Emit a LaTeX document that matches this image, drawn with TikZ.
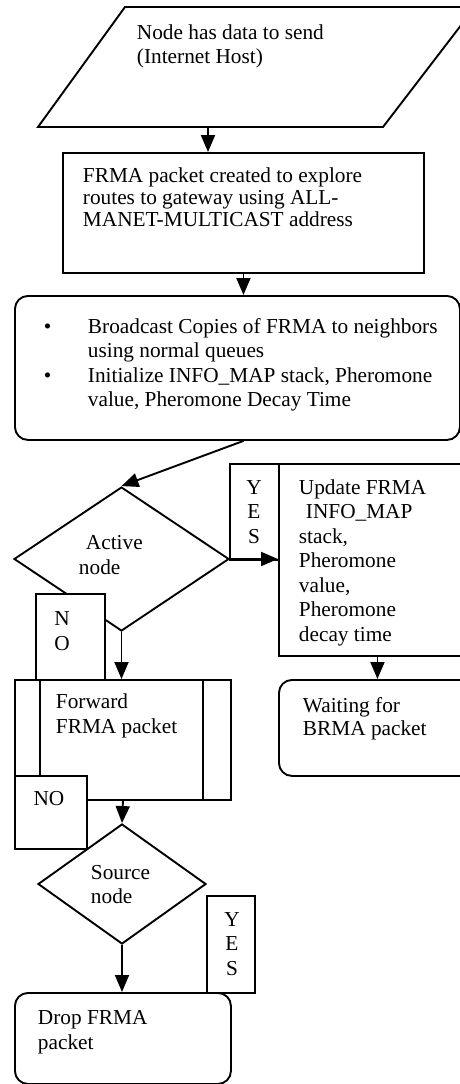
\documentclass[tikz,border=0pt]{standalone}
\usepackage{fontspec}
\setmainfont{Liberation Serif}
\usetikzlibrary{arrows.meta,shapes.geometric}
\begin{document}
\begin{tikzpicture}[x=1pt,y=-1pt,line width=1.9pt,
  arr/.style={-{Triangle[length=17pt,width=14pt]}},
  txt/.style={anchor=base west,inner sep=0pt,align=left,font=\fontsize{21.3}{24.5}\selectfont},
  ctxt/.style={anchor=base,inner sep=0pt,align=center,font=\fontsize{21.3}{24.5}\selectfont},
  box/.style={draw,rectangle,inner sep=0pt,anchor=north west},
  rbox/.style={box,rounded corners=13pt},
  dia/.style={draw,diamond,inner sep=0pt,aspect=1}]
\useasboundingbox (0,0) rectangle (460,1084);
\clip (0,0) rectangle (460,1084);
% start parallelogram (last-line baselines given)
\draw (125,7) -- (475,7) -- (383,127) -- (38,127) -- cycle;
\coordinate (p1) at (208,127);
\node[txt] (ptext) at (136,63.5) {Node has data to send\\(Internet Host)};
% FRMA created
\node[box,minimum width=361pt,minimum height=120pt] (r1) at (62,152) {};
\node[txt,font=\fontsize{21.3}{22}\selectfont] (r1t) at (82,226) {FRMA packet created to explore\\routes to gateway using ALL-\\MANET-MULTICAST address};
% broadcast
\node[rbox,minimum width=445pt,minimum height=144pt] (rb) at (14,295) {};
\node[txt] (b1) at (43,333) {\textbullet};
\node[txt] (b1t) at (87,357.5) {Broadcast Copies of FRMA to neighbors\\using normal queues};
\node[txt] (b2) at (43,382) {\textbullet};
\node[txt] (b2t) at (87,406.5) {Initialize INFO\_MAP stack, Pheromone\\value, Pheromone Decay Time};
% active node
\node[dia,minimum width=215pt,minimum height=144pt] (d1) at (121.5,559) {};
\node[txt] (d1a) at (85,549) {Active};
\node[txt] (d1b) at (78,574) {node};
% YES 1
\node[box,minimum width=49pt,minimum height=96pt] (y1) at (229,463) {};
\node[ctxt] (y1t) at (254,543) {Y\\E\\S};
% update
\node[box,minimum width=197pt,minimum height=192pt] (upd) at (278,463) {};
\node[txt] (updt) at (298,641) {Update FRMA\\\hspace*{7pt}INFO\_MAP\\stack,\\Pheromone\\value,\\Pheromone\\decay time};
% waiting
\node[rbox,minimum width=197pt,minimum height=96pt] (wait) at (278,679) {};
\node[txt,font=\fontsize{21.3}{23}\selectfont] (waitt) at (302,735) {Waiting for\\BRMA packet};
% forward (predefined process)
\node[box,minimum width=216pt,minimum height=120pt] (fwd) at (14,679) {};
\draw (40,679) -- (40,775);
\draw (203,679) -- (203,799);
\node[txt] (fwdt) at (55,733) {Forward\\FRMA packet};
% NO 1
\node[box,fill=white,minimum width=69pt,minimum height=86pt] (n1) at (35,593) {};
\node[ctxt] (n1t) at (62,650) {N\\O};
% NO 2
\node[box,fill=white,minimum width=72pt,minimum height=73pt] (n2) at (14,775) {};
\node[ctxt] (n2t) at (49,805) {NO};
% source node
\node[dia,minimum width=168pt,minimum height=120pt] (d2) at (122,884) {};
\node[txt] (d2a) at (90,879) {Source};
\node[txt] (d2b) at (90,903) {node};
% YES 2
\node[box,minimum width=48pt,minimum height=97pt] (y2) at (206,895) {};
\node[ctxt] (y2t) at (232,975) {Y\\E\\S};
% drop
\node[rbox,minimum width=216pt,minimum height=91pt] (drop) at (14,992) {};
\node[txt] (dropt) at (37,1049) {Drop FRMA\\packet};
% connectors
\draw[arr] (p1) -- (p1 |- r1.north);
\draw[arr] (r1.south) -- (r1.south |- rb.north);
\draw[arr] (r1.south |- rb.south) -- (d1.north);
\draw[arr] (d1.east) -- (d1.east -| upd.west);
\draw[arr] (upd.south) -- (upd.south |- wait.north);
\draw[arr] (d1.south) -- (d1.south |- fwd.north);
\draw[arr] (fwd.south) -- (d2.north);
\draw[arr] (d2.south) -- (d2.south |- drop.north);
\end{tikzpicture}
\end{document}
